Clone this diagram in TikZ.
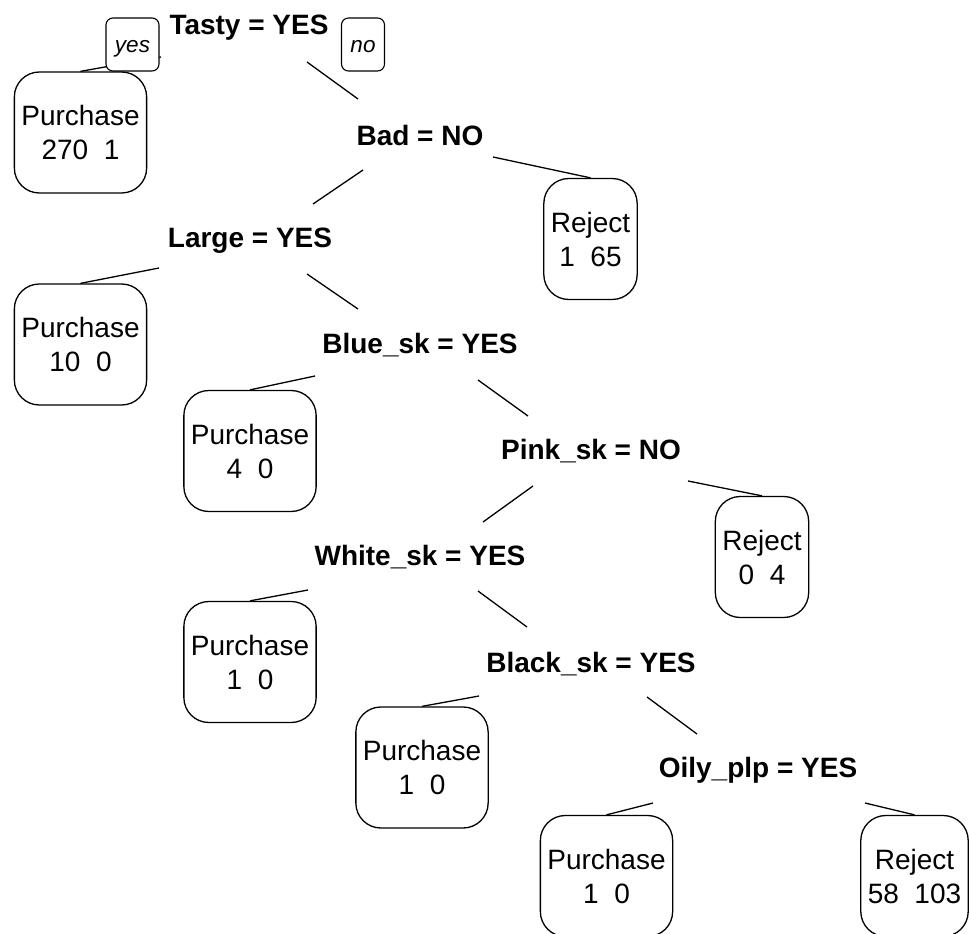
\documentclass[tikz,border=0pt]{standalone}
\usepackage{fontspec}
\setmainfont{Liberation Sans}
\usetikzlibrary{calc,positioning}
\tikzset{
     split/.style = {inner sep=0pt, anchor=base,
                     font=\fontsize{28}{34}\selectfont\bfseries},   % split labels, no frame
      leaf/.style = {draw, line width=1.3pt, rounded corners=25pt, fill=white,
                     align=center, inner xsep=7pt, minimum height=121pt,
                     font=\fontsize{28}{34}\selectfont},
     yesno/.style = {draw, line width=1.1pt, rounded corners=7pt, fill=white,
                     inner xsep=9pt, minimum height=53pt,
                     text height=15.7pt, text depth=0pt,
                     font=\fontsize{22.5}{27}\selectfont\itshape},
    branch/.style = {line width=1.3pt},
}

\begin{document}
\begin{tikzpicture}[x=1pt,y=-1pt]
\useasboundingbox (0,0) rectangle (969,934);
% splits
\node[split] (tasty) at (249,35)  {Tasty = YES};
\node[split] (bad)   at (420,145) {Bad = NO};
\node[split] (large) at (250,247) {Large = YES};
\node[split] (blue)  at (420,353) {Blue\_sk = YES};
\node[split] (pink)  at (591,459) {Pink\_sk = NO};
\node[split] (white) at (420,565) {White\_sk = YES};
\node[split] (black) at (591,672) {Black\_sk = YES};
\node[split] (oily)  at (758,777) {Oily\_plp = YES};
% leaves
\node[leaf] (leaf1) at (80.5,132.5) {Purchase\\270\ \ 1};
\node[leaf] (leaf2) at (590.5,239)  {Reject\\1\ \ 65};
\node[leaf] (leaf3) at (80.5,344.5) {Purchase\\10\ \ 0};
\node[leaf] (leaf4) at (250,451)    {Purchase\\4\ \ 0};
\node[leaf] (leaf5) at (762,557)    {Reject\\0\ \ 4};
\node[leaf] (leaf6) at (250,662)    {Purchase\\1\ \ 0};
\node[leaf] (leaf7) at (422,767.5)  {Purchase\\1\ \ 0};
\node[leaf] (leaf8) at (606.5,876)  {Purchase\\1\ \ 0};
\node[leaf] (leaf9) at (914.5,876)  {Reject\\58\ \ 103};
% branches
\draw[branch] ($(tasty.base)+(-88,22)$) -- (leaf1.north);
\draw[branch] ($(tasty.base)+(58,27)$)  -- ($(bad.base)+(-62,-46)$);
\draw[branch] ($(bad.base)+(-57,25)$)   -- ($(large.base)+(63,-43)$);
\draw[branch] ($(bad.base)+(73,12)$)    -- (leaf2.north);
\draw[branch] ($(large.base)+(-91,21)$) -- (leaf3.north);
\draw[branch] ($(large.base)+(57,27)$)  -- ($(blue.base)+(-62,-44)$);
\draw[branch] ($(blue.base)+(-105,23)$) -- (leaf4.north);
\draw[branch] ($(blue.base)+(58,27)$)   -- ($(pink.base)+(-63,-43)$);
\draw[branch] ($(pink.base)+(-58,27)$)  -- ($(white.base)+(63,-43)$);
\draw[branch] ($(pink.base)+(97,22)$)   -- (leaf5.north);
\draw[branch] ($(white.base)+(-112,25)$) -- (leaf6.north);
\draw[branch] ($(white.base)+(58,26)$)  -- ($(black.base)+(-64,-45)$);
\draw[branch] ($(black.base)+(-112,24)$) -- (leaf7.north);
\draw[branch] ($(black.base)+(56,25)$)  -- ($(oily.base)+(-61,-43)$);
\draw[branch] ($(oily.base)+(-105,26)$) -- (leaf8.north);
\draw[branch] ($(oily.base)+(107,26)$)  -- (leaf9.north);
% yes / no tags on the root
\node[yesno] (yes) at (132.5,44.5) {yes};
\node[yesno] (no)  at (363,44.5)   {no};
\end{tikzpicture}
\end{document}
